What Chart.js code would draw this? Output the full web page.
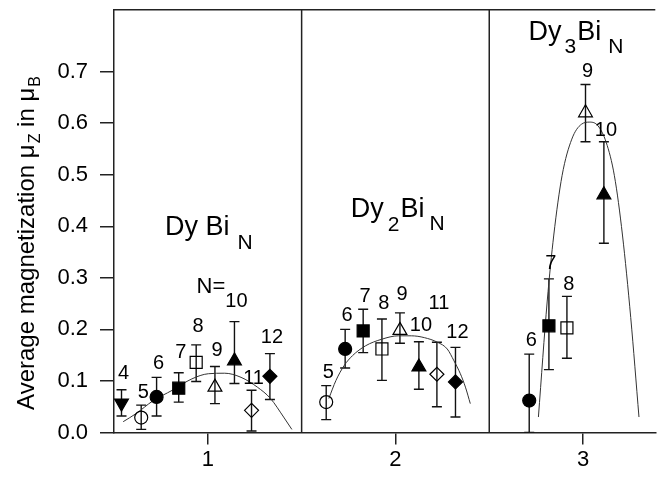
<!DOCTYPE html>
<html>
<head>
<meta charset="utf-8">
<script src="https://cdn.jsdelivr.net/npm/chart.js@4.4.1/dist/chart.umd.min.js"></script>
<style>
  html, body { margin: 0; padding: 0; background: #fff; }
  canvas { display: block; }
</style>
</head>
<body>
<canvas id="magChart" width="665" height="477"></canvas>
<script>
// axis ticks
var xTickValues = [1, 2, 3];
var yTickValues = [0, 0.1, 0.2, 0.3, 0.4, 0.5, 0.6, 0.7];
var panelSeparators = [1.5, 2.5];

// Dy Bi_N  (N = cluster size)
var n1   = [4, 5, 6, 7, 8, 9, 10, 11, 12];
var x1   = [0.540, 0.645, 0.727, 0.845, 0.938, 1.038, 1.142, 1.233, 1.331];
var y1   = [0.057, 0.029, 0.069, 0.086, 0.136, 0.088, 0.139, 0.043, 0.109];
var hi1  = [0.083, 0.053, 0.107, 0.116, 0.170, 0.128, 0.215, 0.082, 0.153];
var lo1  = [0.032, 0.006, 0.032, 0.059, 0.099, 0.056, 0.095, 0.003, 0.064];
var lbl1 = [0.114, 0.078, 0.134, 0.155, 0.205, 0.159, 0.255, 0.105, 0.184];

// Dy2 Bi_N
var n2   = [5, 6, 7, 8, 9, 10, 11, 12];
var x2   = [1.631, 1.732, 1.828, 1.928, 2.024, 2.125, 2.221, 2.320];
var y2   = [0.059, 0.162, 0.197, 0.162, 0.198, 0.127, 0.113, 0.098];
var hi2  = [0.091, 0.200, 0.239, 0.220, 0.232, 0.176, 0.175, 0.165];
var lo2  = [0.025, 0.125, 0.155, 0.101, 0.173, 0.084, 0.050, 0.030];
var lbl2 = [0.117, 0.226, 0.264, 0.251, 0.267, 0.207, 0.251, 0.194];

// Dy3 Bi_N
var n3   = [6, 7, 8, 9, 10];
var x3   = [2.713, 2.818, 2.914, 3.013, 3.111];
var y3   = [0.062, 0.207, 0.203, 0.620, 0.461];
var hi3  = [0.152, 0.298, 0.264, 0.675, 0.564];
var lo3  = [0.000, 0.122, 0.144, 0.564, 0.367];
var lbl3 = [0.178, 0.328, 0.287, 0.700, 0.585];

// guide curves
var c1x = [0.549, 0.619, 0.706, 0.811, 0.915, 1.003, 1.090, 1.177, 1.264, 1.334, 1.404, 1.448];
var c1y = [0.021, 0.037, 0.061, 0.082, 0.104, 0.114, 0.115, 0.107, 0.088, 0.066, 0.030, 0.006];
var c2x = [1.645, 1.683, 1.727, 1.771, 1.840, 1.928, 2.015, 2.085, 2.154, 2.224, 2.276, 2.312, 2.346, 2.373, 2.399];
var c2y = [0.066, 0.101, 0.130, 0.149, 0.168, 0.181, 0.1875, 0.1875, 0.184, 0.175, 0.162, 0.139, 0.114, 0.088, 0.056];
var c3x = [2.762, 2.809, 2.844, 2.888, 2.940, 2.992, 3.036, 3.079, 3.123, 3.167, 3.210, 3.254, 3.298];
var c3y = [0.030, 0.255, 0.383, 0.498, 0.569, 0.598, 0.602, 0.595, 0.563, 0.498, 0.383, 0.223, 0.030];

// marker for each N
var markerByN = {
  4:  { style: 'triangle', rot: 180, filled: true,  size: 8 },
  5:  { style: 'circle',   rot: 0,   filled: false, size: 6.5 },
  6:  { style: 'circle',   rot: 0,   filled: true,  size: 6.5 },
  7:  { style: 'rect',     rot: 0,   filled: true,  size: 8.5 },
  8:  { style: 'rect',     rot: 0,   filled: false, size: 8.5 },
  9:  { style: 'triangle', rot: 0,   filled: false, size: 8 },
  10: { style: 'triangle', rot: 0,   filled: true,  size: 8 },
  11: { style: 'rectRot',  rot: 0,   filled: false, size: 7 },
  12: { style: 'rectRot',  rot: 0,   filled: true,  size: 7 }
};

var FONT = "'Liberation Sans', Arial, Helvetica, sans-serif";
Chart.defaults.font.family = FONT;
Chart.defaults.color = '#000';

function makePoints(n, x, y, hi, lo, lbl) {
  var pts = [];
  for (var i = 0; i < n.length; i++) {
    pts.push({ x: x[i], y: y[i], n: n[i], hi: hi[i], lo: lo[i], lbl: lbl[i] });
  }
  return pts;
}
function makeCurve(cx, cy) {
  var pts = [];
  for (var i = 0; i < cx.length; i++) pts.push({ x: cx[i], y: cy[i] });
  return pts;
}

function pointSet(label, pts) {
  return {
    label: label,
    data: pts,
    errorBars: true,
    showLine: false,
    order: 1,
    pointStyle: function (c) { return markerByN[c.raw.n].style; },
    pointRadius: function (c) { return markerByN[c.raw.n].size; },
    pointHoverRadius: function (c) { return markerByN[c.raw.n].size; },
    pointRotation: function (c) { return markerByN[c.raw.n].rot; },
    pointBackgroundColor: function (c) { return markerByN[c.raw.n].filled ? '#000' : 'rgba(0,0,0,0)'; },
    pointBorderColor: '#000',
    pointBorderWidth: 1.2
  };
}
function curveSet(label, pts) {
  return {
    label: label,
    data: pts,
    showLine: true,
    order: 2,
    borderColor: '#333',
    borderWidth: 1,
    pointRadius: 0,
    cubicInterpolationMode: 'monotone'
  };
}

// titles with subscripts: [text, fontSize, baseline shift, gap before]
var titles = [
  { x: 0.772, y: 0.384, parts: [['Dy Bi', 27, 0, 0], ['N', 21, 14, 8]] },
  { x: 0.940, y: 0.270, parts: [['N=', 22, 0, 0]] },
  { x: 1.762, y: 0.418, parts: [['Dy', 27, 0, 0], ['2', 21, 14, 4], ['Bi', 27, 0, 1], ['N', 21, 13, 5]] },
  { x: 2.709, y: 0.761, parts: [['Dy', 27, 0, 0], ['3', 21, 13, 3], ['Bi', 27, 0, 1], ['N', 21, 13, 7]] }
];
var yTitleParts = [['Average magnetization ', 24, 0, 0], ['\u03bc', 24, 0, 0], ['Z', 16, 6, 1],
                   [' in ', 24, 0, 0], ['\u03bc', 24, 0, 0], ['B', 16, 6, 1]];

function richWidth(ctx, parts) {
  var w = 0;
  parts.forEach(function (p) {
    ctx.font = p[1] + 'px ' + FONT;
    w += p[3] + ctx.measureText(p[0]).width;
  });
  return w;
}
function drawRich(ctx, x, y, parts) {
  var cx = x;
  parts.forEach(function (p) {
    ctx.font = p[1] + 'px ' + FONT;
    cx += p[3];
    ctx.fillText(p[0], cx, y + p[2]);
    cx += ctx.measureText(p[0]).width;
  });
}

var panelPlugin = {
  id: 'panels',
  beforeDatasetsDraw: function (chart) {
    var ctx = chart.ctx, xs = chart.scales.x, ys = chart.scales.y, a = chart.chartArea;
    ctx.save();
    ctx.strokeStyle = '#222';
    ctx.lineWidth = 1.5;
    ctx.beginPath();
    ctx.moveTo(a.left, a.top);
    ctx.lineTo(a.right, a.top);
    panelSeparators.forEach(function (v) {
      var px = xs.getPixelForValue(v);
      ctx.moveTo(px, a.top);
      ctx.lineTo(px, a.bottom);
    });
    ctx.stroke();

    // error bars
    ctx.beginPath();
    ctx.rect(a.left, a.top, a.right - a.left, a.bottom - a.top);
    ctx.clip();
    ctx.strokeStyle = '#111';
    ctx.lineWidth = 1.4;
    chart.data.datasets.forEach(function (ds) {
      if (!ds.errorBars) return;
      ds.data.forEach(function (p) {
        var px = xs.getPixelForValue(p.x);
        var top = ys.getPixelForValue(p.hi), bot = ys.getPixelForValue(p.lo);
        ctx.beginPath();
        ctx.moveTo(px, top); ctx.lineTo(px, bot);
        ctx.moveTo(px - 5, top); ctx.lineTo(px + 5, top);
        ctx.moveTo(px - 5, bot); ctx.lineTo(px + 5, bot);
        ctx.stroke();
      });
    });
    ctx.restore();
  },
  afterDatasetsDraw: function (chart) {
    var ctx = chart.ctx, xs = chart.scales.x, ys = chart.scales.y, a = chart.chartArea;
    ctx.save();
    ctx.fillStyle = '#000';
    // N labels
    ctx.font = '20px ' + FONT;
    ctx.textAlign = 'center';
    ctx.textBaseline = 'middle';
    chart.data.datasets.forEach(function (ds) {
      if (!ds.errorBars) return;
      ds.data.forEach(function (p) {
        ctx.fillText(String(p.n), xs.getPixelForValue(p.x) + 2, ys.getPixelForValue(p.lbl));
      });
    });
    // panel titles
    ctx.textAlign = 'left';
    ctx.textBaseline = 'alphabetic';
    titles.forEach(function (t) {
      drawRich(ctx, xs.getPixelForValue(t.x), ys.getPixelForValue(t.y), t.parts);
    });
    // y axis title
    var w = richWidth(ctx, yTitleParts);
    ctx.translate(34, 243);
    ctx.rotate(-Math.PI / 2);
    drawRich(ctx, -w / 2, 0, yTitleParts);
    ctx.restore();
  }
};

var ctx = document.getElementById('magChart');
var magChart = new Chart(ctx, {
  type: 'scatter',
  data: {
    datasets: [
      pointSet('DyBiN', makePoints(n1, x1, y1, hi1, lo1, lbl1)),
      pointSet('Dy2BiN', makePoints(n2, x2, y2, hi2, lo2, lbl2)),
      pointSet('Dy3BiN', makePoints(n3, x3, y3, hi3, lo3, lbl3)),
      curveSet('fit1', makeCurve(c1x, c1y)),
      curveSet('fit2', makeCurve(c2x, c2y)),
      curveSet('fit3', makeCurve(c3x, c3y))
    ]
  },
  options: {
    responsive: false,
    animation: false,
    layout: { padding: { top: 6, right: 0, bottom: 0, left: 0 } },
    plugins: { legend: { display: false }, tooltip: { enabled: false } },
    scales: {
      x: {
        type: 'linear',
        min: 0.5,
        max: 3.385,
        afterBuildTicks: function (s) { s.ticks = xTickValues.map(function (v) { return { value: v }; }); },
        afterFit: function (s) { s.height = 44.5; s.paddingLeft = 0; s.paddingRight = 0; },
        grid: { drawOnChartArea: false, drawTicks: true, tickLength: 12, color: '#222', lineWidth: 1.5 },
        border: { display: true, color: '#222', width: 1.5 },
        ticks: { font: { size: 22 }, color: '#000', padding: 2, maxRotation: 0,
                 callback: function (v) { return String(v); } }
      },
      y: {
        type: 'linear',
        min: 0,
        max: 0.82,
        afterBuildTicks: function (s) { s.ticks = yTickValues.map(function (v) { return { value: v }; }); },
        afterFit: function (s) { s.width = 114; s.paddingTop = 0; s.paddingBottom = 0; },
        grid: { drawOnChartArea: false, drawTicks: true, tickLength: 14, color: '#222', lineWidth: 1.5 },
        border: { display: true, color: '#222', width: 1.5 },
        ticks: { font: { size: 22 }, color: '#000', padding: 12,
                 callback: function (v) { return v.toFixed(1); } }
      }
    }
  },
  plugins: [panelPlugin]
});
</script>
</body>
</html>
